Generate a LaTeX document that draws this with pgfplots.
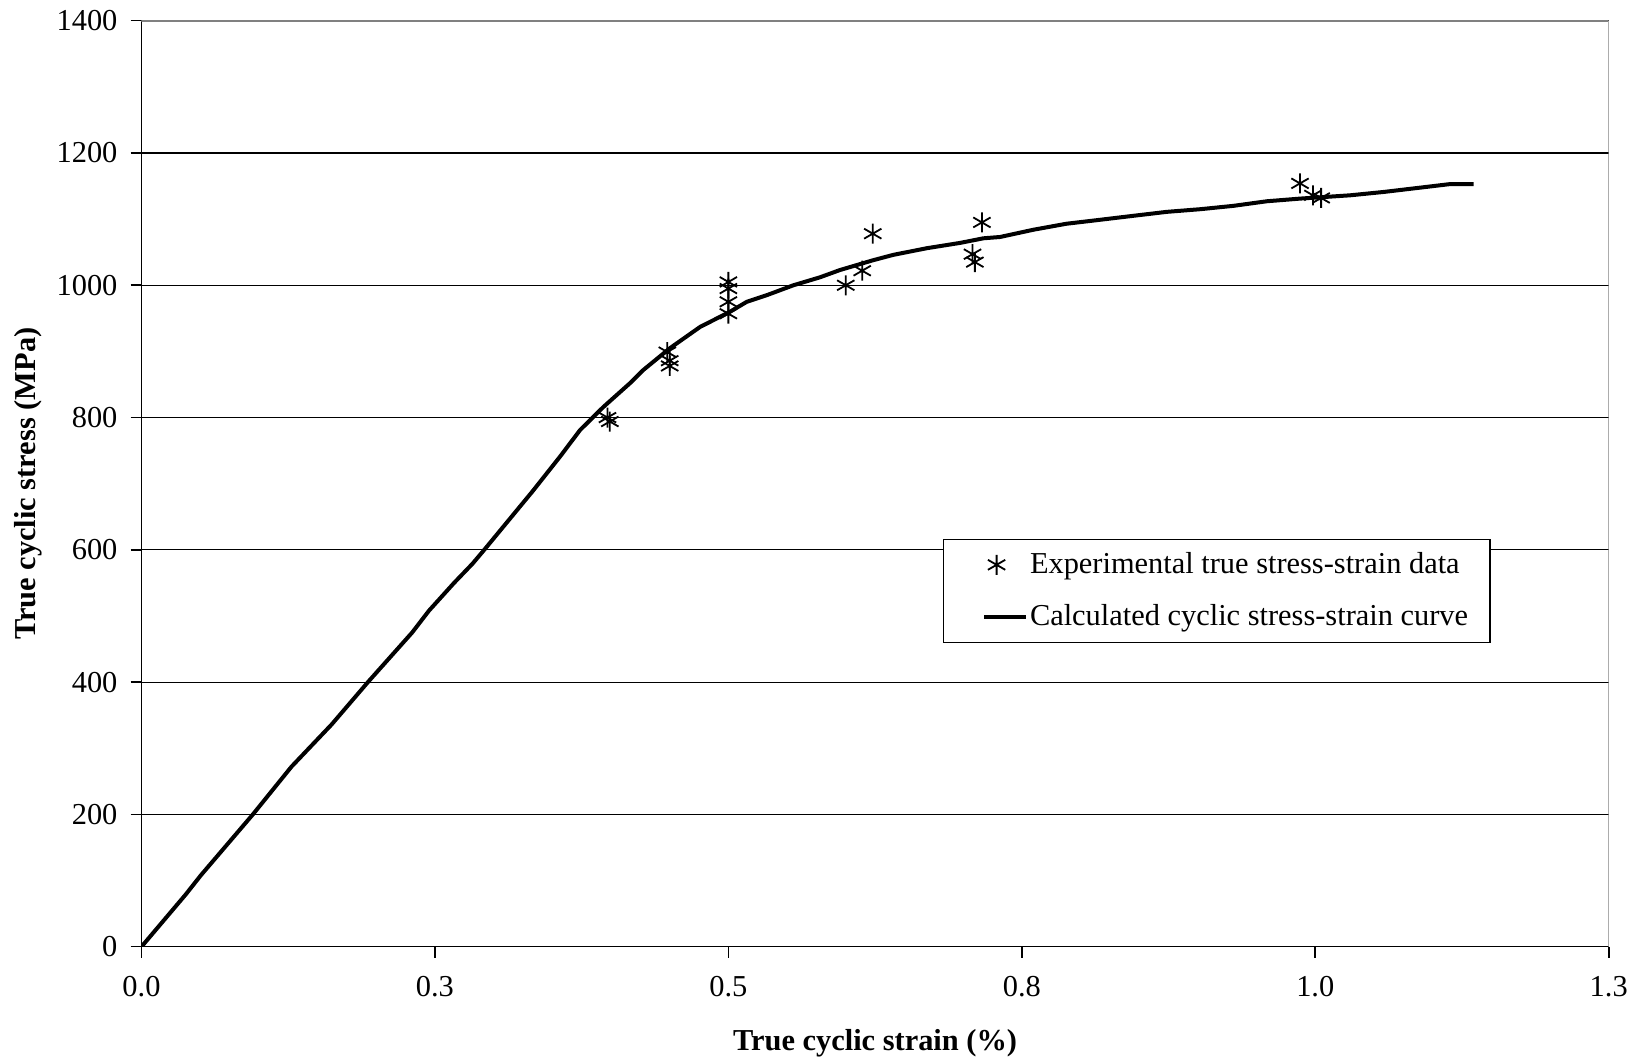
\documentclass[border=0pt]{standalone}
\usepackage{fontspec}
\setmainfont{Liberation Serif}
\usepackage{pgfplots}
\pgfplotsset{compat=1.18}
\newcommand{\chartfont}{\fontsize{15.2}{18}\selectfont}
\pgfplotsset{
    longline/.style={legend image code/.code={\path (0pt,0pt); \draw[##1] (9.4pt,0pt) -- (30.4pt,0pt);}},
    midmark/.style={legend image code/.code={\path (0pt,0pt) (30.4pt,0pt); \draw[##1] plot coordinates {(15.7pt,0pt)};}},
}
\begin{document}
\begin{tikzpicture}
\begin{axis}[
    scale only axis, width=733.6pt, height=463pt,
    xmin=0, xmax=1.25, ymin=0, ymax=1400,
    axis lines=left, axis line style={-, black, line width=0.8pt},
    tick align=outside, major tick length=5.5pt,
    tick style={black, line width=0.8pt},
    xtick={0,0.25,0.5,0.75,1,1.25},
    xticklabels={0.0,0.3,0.5,0.8,1.0,1.3},
    ytick={0,200,...,1400},
    ymajorgrids, major grid style={black, line width=0.6pt},
    /pgf/number format/assume math mode=true,
    /pgf/number format/1000 sep={},
    tick label style={font=\chartfont},
    xticklabel style={yshift=-6pt},
    yticklabel style={xshift=-3pt},
    xlabel={True cyclic strain (\%)}, ylabel={True cyclic stress (MPa)},
    label style={font=\chartfont\bfseries},
    xlabel style={at={(axis description cs:0.5,-0.1042)}, anchor=center},
    ylabel style={at={(axis description cs:-0.0774,0.5)}, anchor=center},
    legend style={at={(axis description cs:0.546,0.4403)}, anchor=north west,
        font=\chartfont, draw=black, line width=0.6pt, fill=white,
        nodes={inner xsep=1pt},
        inner xsep=10pt, inner ysep=4.6pt, row sep=10pt, cells={anchor=west}},
]
\draw[gray, line width=0.9pt] (rel axis cs:0,1) -- (rel axis cs:1,1) -- (rel axis cs:1,0);
\addplot[only marks, mark=asterisk, mark size=5pt, black, line width=0.9pt, midmark] coordinates {
    (0.397,800)(0.399,794)(0.448,899)(0.450,886)(0.450,878)
    (0.500,1005)(0.500,995)(0.500,975)(0.500,957)
    (0.600,1000)(0.614,1022)(0.623,1078)
    (0.708,1047)(0.710,1035)(0.716,1095)
    (0.987,1154)(0.998,1136)(1.005,1132)
};
\addlegendentry{Experimental true stress-strain data}
\addplot[black, line width=2pt, mark=none, longline] coordinates {
    (0,0)(0.0377,79)(0.0506,108)(0.0949,200)(0.1277,272)(0.162,336)
    (0.1934,401)(0.2306,475)(0.2449,508)(0.2663,550)(0.282,579)(0.292,600)
    (0.3334,689)(0.3566,741)(0.3736,781)(0.3935,816)(0.4162,852)(0.4276,872)
    (0.4503,905)(0.4759,937)(0.5014,960)(0.5157,975)(0.5327,985)(0.5554,1000)
    (0.578,1012)(0.595,1023)(0.6236,1038)(0.6406,1046)(0.669,1056)(0.6973,1064)
    (0.7173,1071)(0.7315,1073)(0.760,1084)(0.788,1093)(0.8167,1099)(0.845,1105)
    (0.8736,1111)(0.902,1115)(0.930,1120)(0.9588,1127)(0.987,1131)(1.0297,1136)
    (1.058,1141)(1.0866,1147)(1.115,1153)(1.135,1153)
};
\addlegendentry{Calculated cyclic stress-strain curve}
\end{axis}
\path (-70.75pt,-58.65pt) rectangle (751.25pt,473.35pt);
\end{tikzpicture}
\end{document}
